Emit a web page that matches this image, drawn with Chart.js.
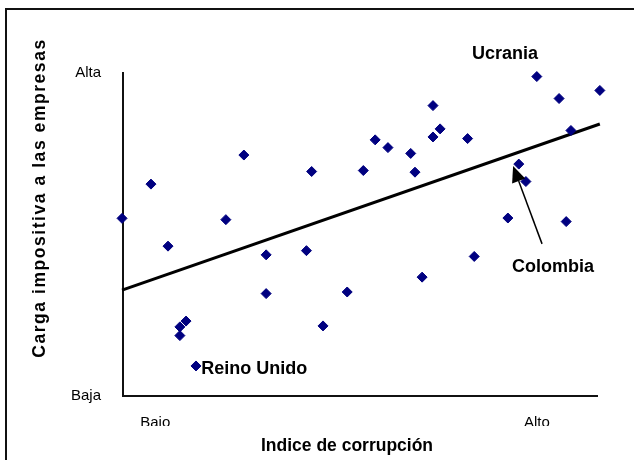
<!DOCTYPE html>
<html>
<head>
<meta charset="utf-8">
<script src="https://cdn.jsdelivr.net/npm/chart.js@4.4.1/dist/chart.umd.min.js"></script>
<style>
  html, body { margin: 0; padding: 0; background: #fff; }
  #wrap { width: 634px; height: 460px; }
</style>
</head>
<body>
<div id="wrap"><canvas id="chart" width="634" height="460"></canvas></div>
<script>
// corruption index (0 = low, 100 = high) and tax burden (0 = low, 100 = high)
const corruption = [-0.2, 5.9, 9.5, 12.0, 12.0, 13.3, 15.4, 21.7, 25.5, 30.2, 30.2, 38.7, 39.8, 42.2, 47.3, 50.7, 53.2,
  55.9, 60.7, 61.6, 63.1, 65.4, 65.4, 66.9, 72.7, 74.1, 81.2, 83.5, 85.0, 87.3, 92.0, 93.5, 94.5, 100.6];
const taxBurden = [55.0, 65.6, 46.4, 18.7, 21.4, 23.2, 9.3, 54.6, 74.6, 43.7, 31.7, 45.0, 69.5, 21.7, 32.2, 69.8, 79.3,
  76.9, 75.1, 69.3, 36.8, 89.9, 80.2, 82.7, 79.7, 43.2, 55.1, 71.8, 66.4, 98.9, 92.1, 54.0, 82.2, 94.6];

// trend line end points
const trendX = [-0.2, 100.6];
const trendY = [32.8, 84.2];

// tick labels
const xTickValues = [6.8, 87.3];
const xTickLabels = ['Bajo', 'Alto'];
const yTickValues = [0, 100];
const yTickLabels = ['Baja', 'Alta'];

// country notes
const noteText = ['Ucrania', 'Reino Unido', 'Colombia'];
const noteX = [80.6, 16.5, 90.7];
const noteY = [105.9, 8.4, 39.9];
// arrow from the Colombia note to its point
const arrowX = [88.4, 82.3];
const arrowY = [47.1, 71.2];

const FONT = "'Liberation Sans', Arial, Helvetica, sans-serif";

const extras = {
  id: 'extras',
  beforeDraw(chart) {
    const ctx = chart.ctx;
    ctx.save();
    ctx.fillStyle = '#fff';
    ctx.fillRect(0, 0, chart.width, chart.height);
    ctx.restore();
  },
  afterDraw(chart) {
    const ctx = chart.ctx;
    const xs = chart.scales.x, ys = chart.scales.y;
    ctx.save();

    // the box below the axis cuts the tick labels
    ctx.fillStyle = '#fff';
    ctx.fillRect(xs.left + 5, xs.top + 30, xs.right - xs.left, 10);

    // outer frame
    ctx.strokeStyle = '#111';
    ctx.lineWidth = 2;
    ctx.strokeRect(6, 9, 640, 470);

    // axis titles
    ctx.fillStyle = '#000';
    ctx.font = 'bold 17.5px ' + FONT;
    ctx.textAlign = 'center';
    ctx.textBaseline = 'middle';
    ctx.fillText('Indice de corrupción', 347, 446);

    const yTitle = 'Carga impositiva a las empresas';
    const natural = ctx.measureText(yTitle).width;
    ctx.save();
    ctx.translate(40, 198);
    ctx.rotate(-Math.PI / 2);
    ctx.letterSpacing = ((318 - natural) / (yTitle.length - 1)).toFixed(2) + 'px';
    ctx.fillText(yTitle, 0, 0);
    ctx.restore();

    // country notes
    ctx.font = 'bold 18px ' + FONT;
    const aligns = ['center', 'left', 'center'];
    noteText.forEach((t, i) => {
      ctx.textAlign = aligns[i];
      ctx.fillText(t, xs.getPixelForValue(noteX[i]), ys.getPixelForValue(noteY[i]));
    });

    // arrow
    const x0 = xs.getPixelForValue(arrowX[0]), y0 = ys.getPixelForValue(arrowY[0]);
    const x1 = xs.getPixelForValue(arrowX[1]), y1 = ys.getPixelForValue(arrowY[1]);
    const ang = Math.atan2(y1 - y0, x1 - x0);
    const hl = 16, hw = 7;
    ctx.strokeStyle = '#000';
    ctx.lineWidth = 1.5;
    ctx.beginPath();
    ctx.moveTo(x0, y0);
    ctx.lineTo(x1 - Math.cos(ang) * hl, y1 - Math.sin(ang) * hl);
    ctx.stroke();
    ctx.beginPath();
    ctx.moveTo(x1, y1);
    ctx.lineTo(x1 - Math.cos(ang) * hl - Math.sin(ang) * hw, y1 - Math.sin(ang) * hl + Math.cos(ang) * hw);
    ctx.lineTo(x1 - Math.cos(ang) * hl + Math.sin(ang) * hw, y1 - Math.sin(ang) * hl - Math.cos(ang) * hw);
    ctx.closePath();
    ctx.fillStyle = '#000';
    ctx.fill();

    ctx.restore();
  }
};

const ctx = document.getElementById('chart').getContext('2d');
new Chart(ctx, {
  type: 'scatter',
  data: {
    datasets: [
      {
        label: 'Países',
        data: corruption.map((x, i) => ({ x: x, y: taxBurden[i] })),
        pointStyle: 'rectRot',
        pointRadius: 5,
        pointBackgroundColor: '#000080',
        pointBorderColor: '#000080',
        pointBorderWidth: 1,
        clip: false,
        order: 1
      },
      {
        label: 'Tendencia',
        data: trendX.map((x, i) => ({ x: x, y: trendY[i] })),
        showLine: true,
        borderColor: '#000',
        borderWidth: 3,
        pointRadius: 0,
        clip: false,
        order: 2
      }
    ]
  },
  options: {
    responsive: false,
    animation: false,
    layout: { padding: { left: 0, top: 73, right: 37, bottom: 0 } },
    plugins: {
      legend: { display: false },
      tooltip: { enabled: false }
    },
    scales: {
      x: {
        type: 'linear',
        min: 0,
        max: 100,
        grid: { display: false, drawTicks: false },
        border: { display: true, color: '#111', width: 2 },
        afterBuildTicks: (scale) => { scale.ticks = xTickValues.map(v => ({ value: v })); },
        afterFit: (scale) => { scale.height = 64; },
        ticks: {
          padding: 18,
          autoSkip: false,
          maxRotation: 0,
          color: '#000',
          font: { family: FONT, size: 15 },
          callback: (value, index) => xTickLabels[index]
        }
      },
      y: {
        type: 'linear',
        min: 0,
        max: 100,
        grid: { display: false, drawTicks: false },
        border: { display: true, color: '#111', width: 2 },
        afterBuildTicks: (scale) => { scale.ticks = yTickValues.map(v => ({ value: v })); },
        afterFit: (scale) => { scale.width = 123; },
        ticks: {
          padding: 22,
          autoSkip: false,
          color: '#000',
          font: { family: FONT, size: 15 },
          callback: (value, index) => yTickLabels[index]
        }
      }
    }
  },
  plugins: [extras]
});
</script>
</body>
</html>
